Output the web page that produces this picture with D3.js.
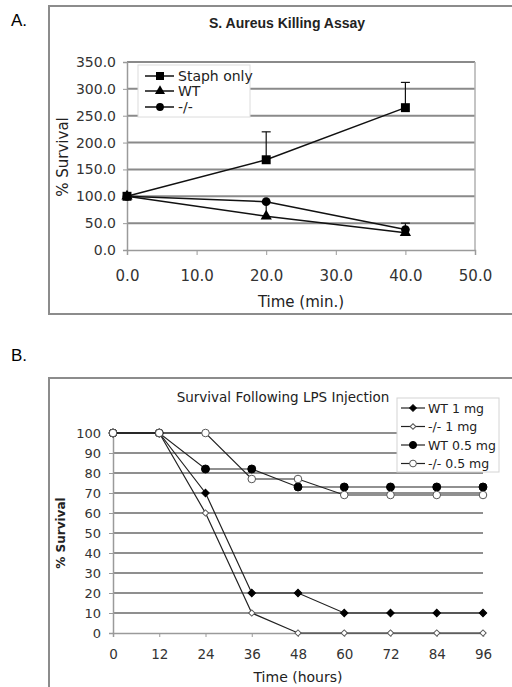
<!DOCTYPE html>
<html>
<head>
<meta charset="utf-8">
<script src="https://cdn.jsdelivr.net/npm/d3@7"></script>
<style>
  body { margin: 0; background: #fff; }
  svg { display: block; }
</style>
</head>
<body>
<div id="chart"></div>
<script>
// panel A - S. Aureus killing assay
const timesA = [0, 20, 40]
const staph = [100, 168, 265]
const staphErr = [0, 52, 47]
const wtA = [100, 63, 32]
const wtErr = [0, 26, 0]
const koA = [100, 90, 38]
const koErr = [0, 0, 12]
const xTicksA = [0, 10, 20, 30, 40, 50]
const yTicksA = [0, 50, 100, 150, 200, 250, 300, 350]
const legendA = ['Staph only', 'WT', '-/-']

// panel B - survival after LPS
const hoursB = [0, 12, 24, 36, 48, 60, 72, 84, 96]
const wt1 = [100, 100, 70, 20, 20, 10, 10, 10, 10]
const ko1 = [100, 100, 60, 10, 0, 0, 0, 0, 0]
const wt05 = [100, 100, 82, 82, 73, 73, 73, 73, 73]
const ko05 = [100, 100, 100, 77, 77, 69, 69, 69, 69]
const yTicksB = [0, 10, 20, 30, 40, 50, 60, 70, 80, 90, 100]
const legendB = ['WT 1 mg', '-/- 1 mg', 'WT 0.5 mg', '-/- 0.5 mg']

const svg = d3.select('#chart')
    .append('svg')
    .attr('width', 512)
    .attr('height', 687)

const fontA = 'DejaVu Sans, Verdana, sans-serif'

// ---------- panel A ----------
svg.append('text')
    .attr('x', 11).attr('y', 26)
    .style('font-family', 'Liberation Sans, Arial, sans-serif')
    .style('font-size', '17px')
    .text('A.')

svg.append('rect')
    .attr('x', 49).attr('y', 6)
    .attr('width', 470).attr('height', 308)
    .attr('fill', 'none')
    .attr('stroke', '#8c8c8c')
    .attr('stroke-width', 2)

const xA = d3.scaleLinear().domain([0, 50]).range([127, 475])
const yA = d3.scaleLinear().domain([0, 350]).range([250, 62])

svg.append('text')
    .attr('x', 287).attr('y', 28)
    .attr('text-anchor', 'middle')
    .style('font-family', 'Liberation Sans, Arial, sans-serif')
    .style('font-weight', 'bold')
    .style('font-size', '14px')
    .attr('fill', '#222')
    .text('S. Aureus Killing Assay')

// gridlines
svg.append('g')
    .selectAll('line')
    .data(yTicksA.slice(1))
    .join('line')
    .attr('x1', xA(0)).attr('x2', xA(50))
    .attr('y1', d => yA(d)).attr('y2', d => yA(d))
    .attr('stroke', '#8a8a8a')
    .attr('stroke-width', 2)

// right border of plot area
svg.append('line')
    .attr('x1', xA(50)).attr('x2', xA(50))
    .attr('y1', yA(350)).attr('y2', yA(0))
    .attr('stroke', '#b0b0b0')
    .attr('stroke-width', 1.5)

// y axis
const yaxisA = d3.axisLeft(yA).tickValues(yTicksA).tickSize(4).tickFormat(d3.format('.1f'))
const gyA = svg.append('g')
    .attr('transform', `translate(${xA(0)},0)`)
    .call(yaxisA)
gyA.select('.domain').attr('stroke', '#9a9a9a').attr('stroke-width', 1.5)
gyA.selectAll('.tick line').attr('stroke', '#9a9a9a')
gyA.selectAll('.tick text')
    .attr('x', -11)
    .style('font-family', fontA)
    .style('font-size', '14px')
    .attr('fill', '#333')

// x axis
const xaxisA = d3.axisBottom(xA).tickValues(xTicksA).tickSize(5).tickFormat(d3.format('.1f'))
const gxA = svg.append('g')
    .attr('transform', `translate(0,${yA(0)})`)
    .call(xaxisA)
gxA.select('.domain').attr('stroke', '#9a9a9a').attr('stroke-width', 1.5)
gxA.selectAll('.tick line').attr('stroke', '#9a9a9a')
gxA.selectAll('.tick text')
    .attr('y', 20)
    .style('font-family', fontA)
    .style('font-size', '15px')
    .attr('fill', '#333')

svg.append('text')
    .attr('x', 301).attr('y', 307)
    .attr('text-anchor', 'middle')
    .style('font-family', fontA)
    .style('font-size', '15px')
    .attr('fill', '#222')
    .text('Time (min.)')

svg.append('text')
    .attr('transform', 'rotate(-90)')
    .attr('x', -157).attr('y', 68)
    .attr('text-anchor', 'middle')
    .style('font-family', fontA)
    .style('font-size', '15px')
    .attr('fill', '#222')
    .text('% Survival')

// series A
const seriesA = [
    { vals: staph, err: staphErr, shape: d3.symbolSquare, size: 80 },
    { vals: wtA, err: wtErr, shape: d3.symbolTriangle, size: 55 },
    { vals: koA, err: koErr, shape: d3.symbolCircle, size: 60 }
]

const lineA = d3.line()
    .x((d, i) => xA(timesA[i]))
    .y(d => yA(d))

seriesA.forEach(s => {
    // error bars
    s.err.forEach((e, i) => {
        if (e <= 0) return
        const x = xA(timesA[i])
        svg.append('line')
            .attr('x1', x).attr('x2', x)
            .attr('y1', yA(s.vals[i])).attr('y2', yA(s.vals[i] + e))
            .attr('stroke', '#111').attr('stroke-width', 1.2)
        svg.append('line')
            .attr('x1', x - 4.5).attr('x2', x + 4.5)
            .attr('y1', yA(s.vals[i] + e)).attr('y2', yA(s.vals[i] + e))
            .attr('stroke', '#111').attr('stroke-width', 1.2)
    })
    svg.append('path')
        .datum(s.vals)
        .attr('fill', 'none')
        .attr('stroke', '#111')
        .attr('stroke-width', 1.5)
        .attr('d', lineA)
    svg.append('g')
        .selectAll('path')
        .data(s.vals)
        .join('path')
        .attr('transform', (d, i) => `translate(${xA(timesA[i])},${yA(d)})`)
        .attr('d', d3.symbol().type(s.shape).size(s.size))
        .attr('fill', '#000')
})

// legend A
const legA = svg.append('g')
legA.append('rect')
    .attr('x', 138).attr('y', 65)
    .attr('width', 112).attr('height', 52)
    .attr('fill', '#fff')
    .attr('stroke', '#dcdcdc')
legendA.forEach((name, i) => {
    const y = [76, 91, 107][i]
    legA.append('line')
        .attr('x1', 145).attr('x2', 174)
        .attr('y1', y).attr('y2', y)
        .attr('stroke', '#111').attr('stroke-width', 1.5)
    legA.append('path')
        .attr('transform', `translate(160,${y})`)
        .attr('d', d3.symbol().type(seriesA[i].shape).size(seriesA[i].size * 0.8))
        .attr('fill', '#000')
    legA.append('text')
        .attr('x', 178).attr('y', y + 5)
        .style('font-family', fontA)
        .style('font-size', '14px')
        .attr('fill', '#222')
        .text(name)
})

// ---------- panel B ----------
svg.append('text')
    .attr('x', 11).attr('y', 361)
    .style('font-family', 'Liberation Sans, Arial, sans-serif')
    .style('font-size', '17px')
    .text('B.')

svg.append('rect')
    .attr('x', 49).attr('y', 378)
    .attr('width', 470).attr('height', 320)
    .attr('fill', 'none')
    .attr('stroke', '#8c8c8c')
    .attr('stroke-width', 2)

const xB = d3.scaleLinear().domain([0, 96]).range([113, 483])
const yB = d3.scaleLinear().domain([0, 100]).range([633, 433])

svg.append('text')
    .attr('x', 283).attr('y', 402)
    .attr('text-anchor', 'middle')
    .style('font-family', fontA)
    .style('font-size', '13.5px')
    .attr('fill', '#222')
    .text('Survival Following LPS Injection')

svg.append('g')
    .selectAll('line')
    .data(yTicksB.slice(1))
    .join('line')
    .attr('x1', xB(0)).attr('x2', xB(96))
    .attr('y1', d => yB(d)).attr('y2', d => yB(d))
    .attr('stroke', '#6a6a6a')
    .attr('stroke-width', 1.5)

const yaxisB = d3.axisLeft(yB).tickValues(yTicksB).tickSize(4)
const gyB = svg.append('g')
    .attr('transform', `translate(${xB(0)},0)`)
    .call(yaxisB)
gyB.select('.domain').attr('stroke', '#9a9a9a').attr('stroke-width', 1.5)
gyB.selectAll('.tick line').attr('stroke', '#9a9a9a')
gyB.selectAll('.tick text')
    .attr('x', -12)
    .style('font-family', fontA)
    .style('font-size', '13px')
    .attr('fill', '#333')

const xaxisB = d3.axisBottom(xB).tickValues(hoursB).tickSize(4)
const gxB = svg.append('g')
    .attr('transform', `translate(0,${yB(0)})`)
    .call(xaxisB)
gxB.select('.domain').attr('stroke', '#9a9a9a').attr('stroke-width', 1.5)
gxB.selectAll('.tick line').attr('stroke', '#9a9a9a')
gxB.selectAll('.tick text')
    .attr('y', 16)
    .style('font-family', fontA)
    .style('font-size', '13.5px')
    .attr('fill', '#333')

svg.append('text')
    .attr('x', 298).attr('y', 682)
    .attr('text-anchor', 'middle')
    .style('font-family', fontA)
    .style('font-size', '14px')
    .attr('fill', '#222')
    .text('Time (hours)')

svg.append('text')
    .attr('transform', 'rotate(-90)')
    .attr('x', -533).attr('y', 65)
    .attr('text-anchor', 'middle')
    .style('font-family', fontA)
    .style('font-weight', 'bold')
    .style('font-size', '12px')
    .attr('fill', '#222')
    .text('% Survival')

// diamonds are squares turned 45 degrees
const seriesB = [
    { vals: wt1, shape: d3.symbolSquare, rot: 45, size: 28, fill: '#000' },
    { vals: ko1, shape: d3.symbolSquare, rot: 45, size: 20, fill: '#fff' },
    { vals: wt05, shape: d3.symbolCircle, rot: 0, size: 50, fill: '#000' },
    { vals: ko05, shape: d3.symbolCircle, rot: 0, size: 45, fill: '#fff' }
]

const lineB = d3.line()
    .x((d, i) => xB(hoursB[i]))
    .y(d => yB(d))

seriesB.forEach(s => {
    svg.append('path')
        .datum(s.vals)
        .attr('fill', 'none')
        .attr('stroke', '#222')
        .attr('stroke-width', 1.2)
        .attr('d', lineB)
})
seriesB.forEach(s => {
    svg.append('g')
        .selectAll('path')
        .data(s.vals)
        .join('path')
        .attr('transform', (d, i) => `translate(${xB(hoursB[i])},${yB(d)}) rotate(${s.rot})`)
        .attr('d', d3.symbol().type(s.shape).size(s.size))
        .attr('fill', s.fill)
        .attr('stroke', s.fill == '#fff' ? '#555' : '#000')
        .attr('stroke-width', 1)
})

// legend B
const legB = svg.append('g')
legB.append('rect')
    .attr('x', 397).attr('y', 398)
    .attr('width', 102).attr('height', 74)
    .attr('fill', '#fff')
    .attr('stroke', '#d4d4d4')
legendB.forEach((name, i) => {
    const y = 408 + i * 18.5
    const s = seriesB[i]
    legB.append('line')
        .attr('x1', 401).attr('x2', 425)
        .attr('y1', y).attr('y2', y)
        .attr('stroke', '#222').attr('stroke-width', 1.2)
    legB.append('path')
        .attr('transform', `translate(413,${y}) rotate(${s.rot})`)
        .attr('d', d3.symbol().type(s.shape).size(s.size * 0.8))
        .attr('fill', s.fill)
        .attr('stroke', s.fill == '#fff' ? '#555' : '#000')
    legB.append('text')
        .attr('x', 428).attr('y', y + 4.5)
        .style('font-family', fontA)
        .style('font-size', '12.5px')
        .attr('fill', '#222')
        .text(name)
})
</script>
</body>
</html>
